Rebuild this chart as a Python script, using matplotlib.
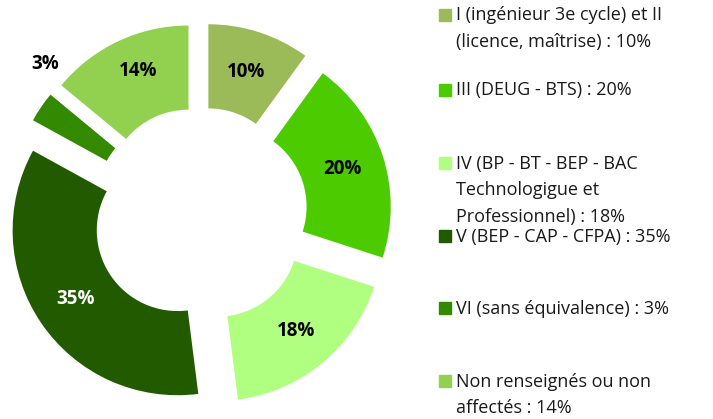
import matplotlib as mpl
mpl.use('agg')
import matplotlib.pyplot as plt
import numpy as np

# Data
values = [10, 20, 18, 35, 3, 14]
pct_labels = ["10%", "20%", "18%", "35%", "3%", "14%"]
colors = ["#9bbb59", "#4ccc00", "#b0ff80", "#225a00", "#338a00", "#92d050"]
legend_labels = [
    "I (ingénieur 3e cycle) et II\n(licence, maîtrise) : 10%",
    "III (DEUG - BTS) : 20%",
    "IV (BP - BT - BEP - BAC\nTechnologigue et\nProfessionnel) : 18%",
    "V (BEP - CAP - CFPA) : 35%",
    "VI (sans équivalence) : 3%",
    "Non renseignés ou non\naffectés : 14%",
]
legend_y = [15, 90, 163, 236, 308, 381]  # pixel centre of first line

W, H = 713, 419
plt.rcParams['font.family'] = ['Open Sans', 'DejaVu Sans']
fig = plt.figure(figsize=(W / 100, H / 100), dpi=100)

# donut axes: centre at (200, 215) px, radius 1 = 165 px
R_PX = 165
ax = fig.add_axes([0, (H - 415) / H, 400 / W, 400 / H])
lim = 200 / R_PX
explode = 0.164
inner = 0.49

wedges, _ = ax.pie(values, colors=colors, startangle=90, counterclock=False,
                   explode=[explode] * len(values),
                   wedgeprops=dict(width=1 - inner, linewidth=0))
ax.set_xlim(-lim, lim)
ax.set_ylim(-lim, lim)
ax.set_aspect('equal')
ax.axis('off')

# percentage labels
total = sum(values)
start = 0.0
for i, v in enumerate(values):
    mid = start + v / total * 360 / 2
    start += v / total * 360
    r = (1 + inner) / 2 + explode
    ang = mid
    col = 'black'
    if pct_labels[i] == "35%":
        col = 'white'
    if v < 5:
        r = 1.31
        ang = mid + 10
    elif v == 14:
        ang = mid + 2
        r += 0.04
    th = np.deg2rad(90 - ang)
    ax.text(r * np.cos(th), r * np.sin(th), pct_labels[i], ha='center', va='center',
            fontsize=13.5, fontweight='bold', color=col)

# legend
for lab, yc, c in zip(legend_labels, legend_y, colors):
    fig.patches.append(plt.Rectangle((439 / W, 1 - (yc + 6) / H), 12 / W, 12 / H,
                                     transform=fig.transFigure, color=c))
    for j, line in enumerate(lab.split("\n")):
        fig.text(456 / W, 1 - (yc + 5.5 + j * 26.5) / H, line, ha='left', va='baseline',
                 fontsize=13, color='#1a1a1a')

fig.savefig('out.png', dpi=100)
